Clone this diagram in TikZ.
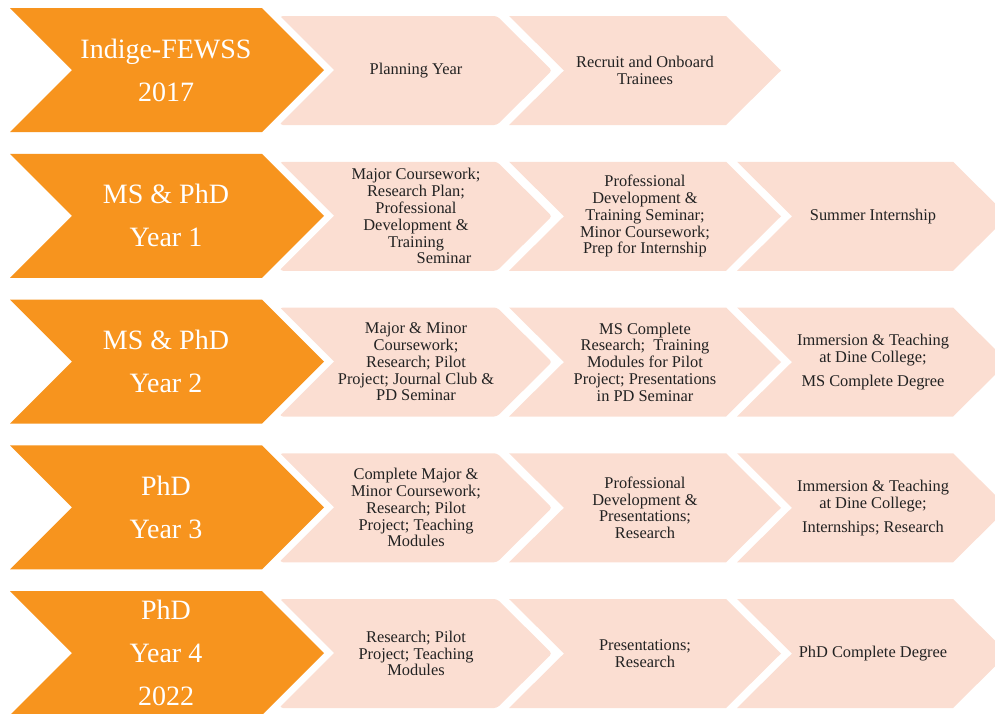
\documentclass[tikz,border=0pt]{standalone}
\usepackage{fontspec}
\setmainfont{Liberation Serif}
\definecolor{chevorange}{HTML}{F7941E}
\definecolor{chevpale}{HTML}{FBDED2}
\definecolor{txtdark}{HTML}{222222}
\tikzset{
  yeartext/.style={text=white, font=\fontsize{28}{43}\selectfont, align=center, inner sep=0pt},
  phasetext/.style={text=txtdark, font=\fontsize{16.4}{16.8}\selectfont, align=center, inner sep=0pt},
  whiteedge/.style={draw=white, line width=14pt, line join=miter},
  orangefill/.style={fill=chevorange},
  palefill/.style={fill=chevpale},
}
\newcommand\orangechev[1]{%
  \path[whiteedge] (10,#1) -- (262,#1) -- (324,#1+62) -- (262,#1+124) -- (10,#1+124) -- (72,#1+62) -- cycle;
  \path[orangefill] (10,#1) -- (262,#1) -- (324,#1+62) -- (262,#1+124) -- (10,#1+124) -- (72,#1+62) -- cycle;
}
\newcommand\paleone[1]{%
  \path[palefill, rounded corners=3pt] (280,#1+8) -- (497,#1+8) -- (552,#1+62.5) -- (497,#1+117) -- (280,#1+117) -- cycle;
}
\newcommand\paletwo[1]{%
  \path[palefill] (509,#1+8) -- (726,#1+8) -- (781,#1+62.5) -- (726,#1+117) -- (509,#1+117) -- (564,#1+62.5) -- cycle;
}
\newcommand\palethree[1]{%
  \path[palefill] (737,#1+8) -- (953,#1+8) -- (1008,#1+62.5) -- (953,#1+117) -- (737,#1+117) -- (792,#1+62.5) -- cycle;
}
\begin{document}
\begin{tikzpicture}[x=1pt, y=-1pt]
\useasboundingbox (0,0) rectangle (995,713);
\clip (0,0) rectangle (995,713);

% Row 1
\paleone{8}\paletwo{8}\orangechev{8}
\node[yeartext] (y1) at (166,70) {Indige-FEWSS\\2017};
\node[phasetext] (r1a) at (416,70.5) {Planning Year};
\node[phasetext] (r1b) at (645,70.5) {Recruit and Onboard\\Trainees};

% Row 2
\paleone{153.75}\paletwo{153.75}\palethree{153.75}\orangechev{153.75}
\node[yeartext] (y2) at (166,215.75) {MS \& PhD\\Year 1};
\node[phasetext] (r2a) at (416,216.25) {Major Coursework;\\Research Plan;\\Professional\\Development \&\\Training\\\hspace*{56pt}Seminar};
\node[phasetext] (r2b) at (645,216.25) {Professional\\Development \&\\Training Seminar;\\Minor Coursework;\\Prep for Internship};
\node[phasetext] (r2c) at (873,216.25) {Summer Internship};

% Row 3
\paleone{299.5}\paletwo{299.5}\palethree{299.5}\orangechev{299.5}
\node[yeartext] (y3) at (166,361.5) {MS \& PhD\\Year 2};
\node[phasetext] (r3a) at (416,362) {Major \& Minor\\Coursework;\\Research; Pilot\\Project; Journal Club \&\\PD Seminar};
\node[phasetext] (r3b) at (645,362) {MS Complete\\Research;~ Training\\Modules for Pilot\\Project; Presentations\\in PD Seminar};
\node[phasetext] (r3c) at (873,362) {Immersion \& Teaching\\at Dine College;\\[7pt]MS Complete Degree};

% Row 4
\paleone{445.25}\paletwo{445.25}\palethree{445.25}\orangechev{445.25}
\node[yeartext] (y4) at (166,507.25) {PhD\\Year 3};
\node[phasetext] (r4a) at (416,507.75) {Complete Major \&\\Minor Coursework;\\Research; Pilot\\Project; Teaching\\Modules};
\node[phasetext] (r4b) at (645,507.75) {Professional\\Development \&\\Presentations;\\Research};
\node[phasetext] (r4c) at (873,507.75) {Immersion \& Teaching\\at Dine College;\\[7pt]Internships; Research};

% Row 5
\paleone{591}\paletwo{591}\palethree{591}\orangechev{591}
\node[yeartext] (y5) at (166,653) {PhD\\Year 4\\2022};
\node[phasetext] (r5a) at (416,653.5) {Research; Pilot\\Project; Teaching\\Modules};
\node[phasetext] (r5b) at (645,653.5) {Presentations;\\Research};
\node[phasetext] (r5c) at (873,653.5) {PhD Complete Degree};
\end{tikzpicture}
\end{document}
